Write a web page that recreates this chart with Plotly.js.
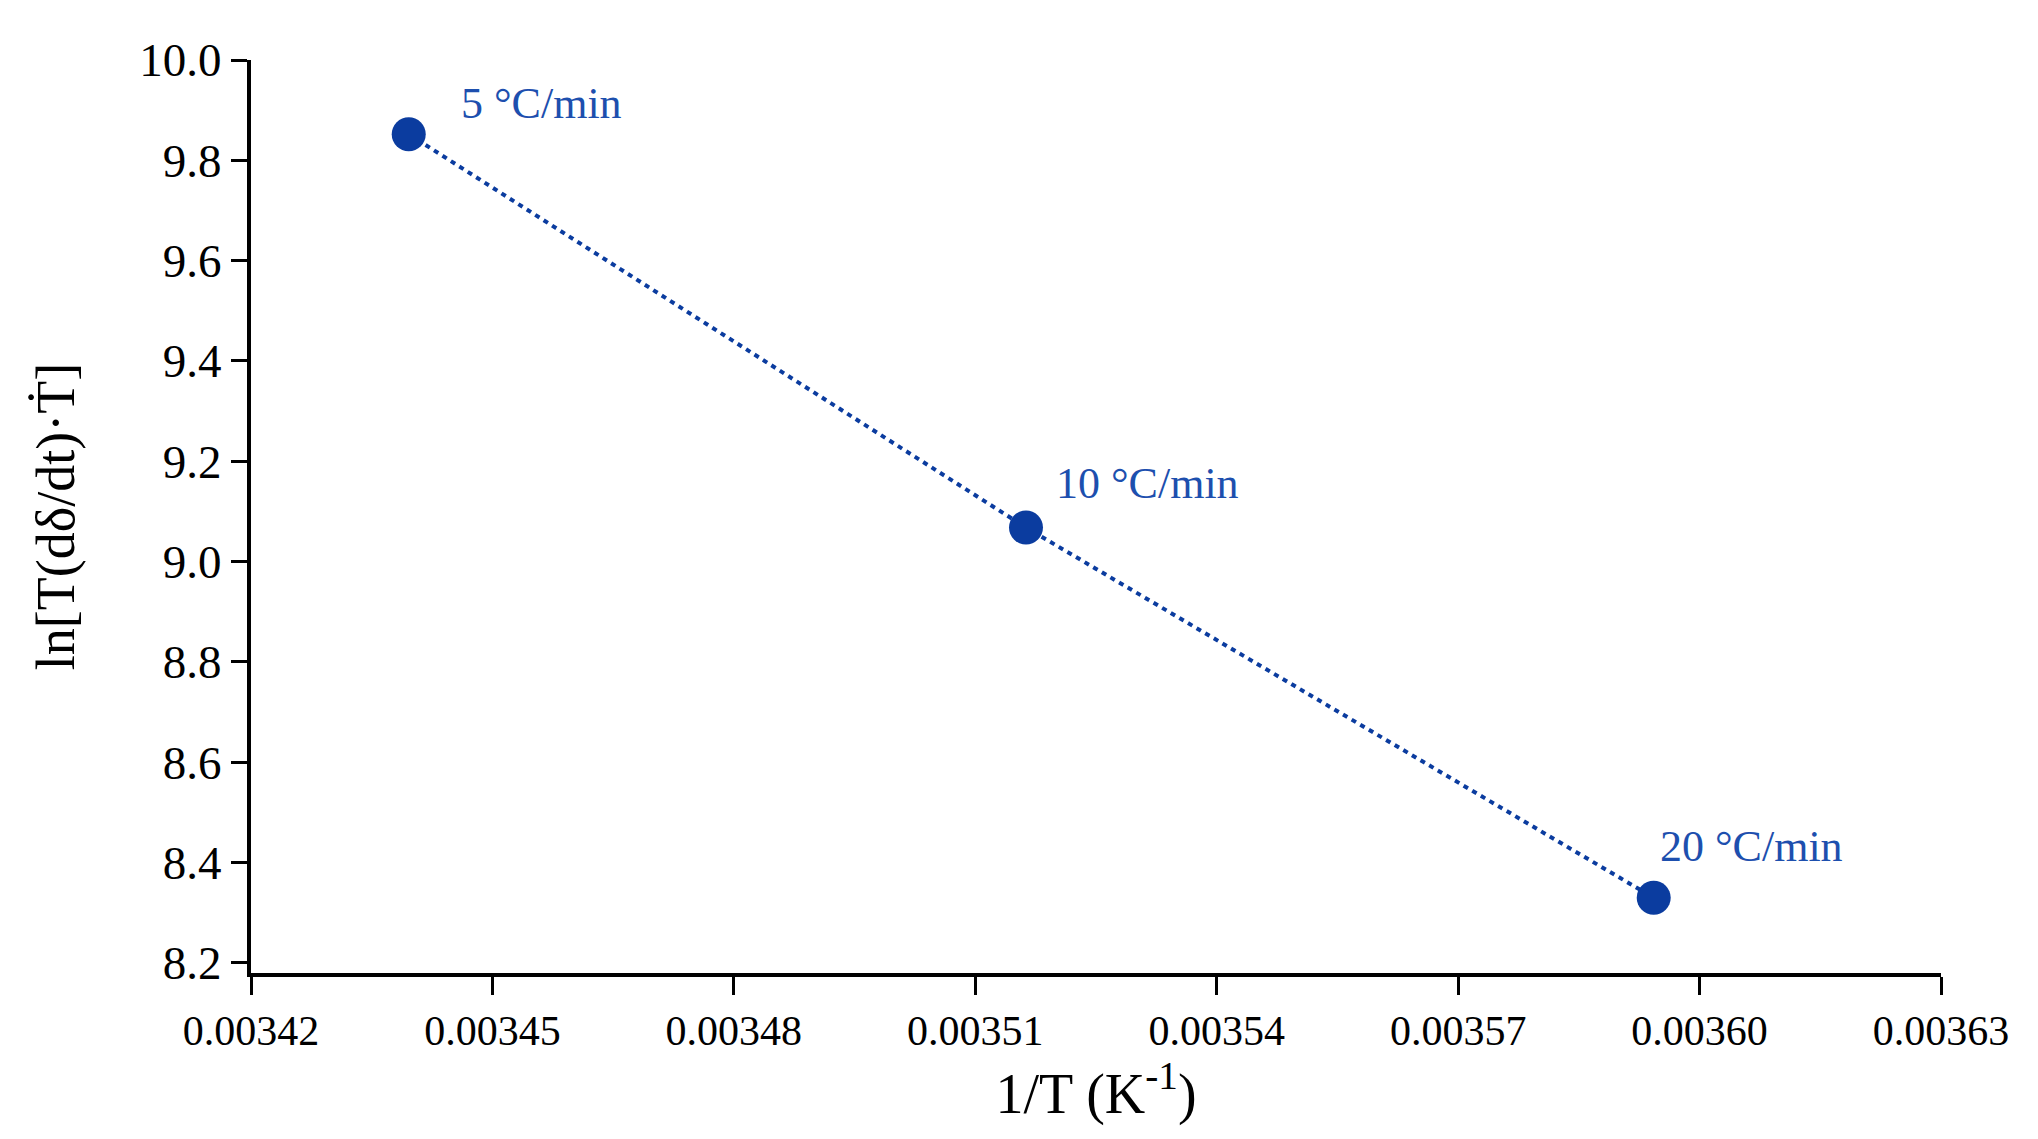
<!DOCTYPE html>
<html>
<head>
<meta charset="utf-8">
<script src="https://cdn.plot.ly/plotly-3.0.1.min.js"></script>
<style>
  html, body { margin: 0; padding: 0; background: #fff; }
  #chart { width: 2038px; height: 1139px; }
</style>
</head>
<body>
<div id="chart"></div>
<script>
// 1/T (K^-1) and ln[T(dδ/dt)·Ṫ] for the three heating rates
var invT = [0.0034396, 0.0035163, 0.0035943];
var lnRate = [9.852, 9.068, 8.330];
var rateLabels = ['5 °C/min', '10 °C/min', '20 °C/min'];
var xTicks = [0.00342, 0.00345, 0.00348, 0.00351, 0.00354, 0.00357, 0.00360, 0.00363];
var xTickText = ['0.00342', '0.00345', '0.00348', '0.00351', '0.00354', '0.00357', '0.00360', '0.00363'];
var yTicks = [8.2, 8.4, 8.6, 8.8, 9.0, 9.2, 9.4, 9.6, 9.8, 10.0];
var yTickText = ['8.2', '8.4', '8.6', '8.8', '9.0', '9.2', '9.4', '9.6', '9.8', '10.0'];

var blue = '#0b3c9f';
var serif = "'Liberation Serif', serif";

var trace = {
    x: invT,
    y: lnRate,
    type: 'scatter',
    mode: 'lines+markers',
    line: { color: blue, width: 4, dash: '5px,5px' },
    marker: { color: blue, size: 34 },
    hoverinfo: 'x+y'
};

// label offsets (px) next to each point
var shiftX = [50, 28, 4];
var shiftY = [31, 44, 51];

var annotations = rateLabels.map(function (t, i) {
    return {
        x: invT[i], y: lnRate[i],
        xref: 'x', yref: 'y',
        text: t,
        showarrow: false,
        xanchor: 'left', yanchor: 'middle',
        xshift: shiftX[i], yshift: shiftY[i],
        font: { family: serif, size: 44, color: '#1d4fae' }
    };
});

var layout = {
    width: 2038,
    height: 1139,
    margin: { l: 251, r: 97, t: 60, b: 166 },
    paper_bgcolor: '#ffffff',
    plot_bgcolor: '#ffffff',
    showlegend: false,
    font: { family: serif, color: '#000' },
    xaxis: {
        range: [0.00342, 0.00363],
        tickvals: xTicks,
        ticktext: xTickText,
        ticks: 'outside',
        ticklen: 18,
        tickwidth: 3,
        tickcolor: '#000',
        showline: true,
        linewidth: 4,
        linecolor: '#000',
        showgrid: false,
        zeroline: false,
        tickfont: { family: serif, size: 42, color: '#000' },
        title: { text: '1/T (K<sup>-1</sup>)', font: { family: serif, size: 56, color: '#000' }, standoff: 20 }
    },
    yaxis: {
        range: [8.18, 10.0],
        tickvals: yTicks,
        ticktext: yTickText,
        ticks: 'outside',
        ticklen: 16,
        tickwidth: 3,
        tickcolor: '#000',
        showline: true,
        linewidth: 4,
        linecolor: '#000',
        showgrid: false,
        zeroline: false,
        tickfont: { family: serif, size: 47, color: '#000' },
        title: { text: 'ln[T(dδ/dt)·Ṫ]', font: { family: serif, size: 54, color: '#000' }, standoff: 48 }
    },
    annotations: annotations
};

Plotly.newPlot('chart', [trace], layout, { displayModeBar: false, staticPlot: true });
</script>
</body>
</html>
